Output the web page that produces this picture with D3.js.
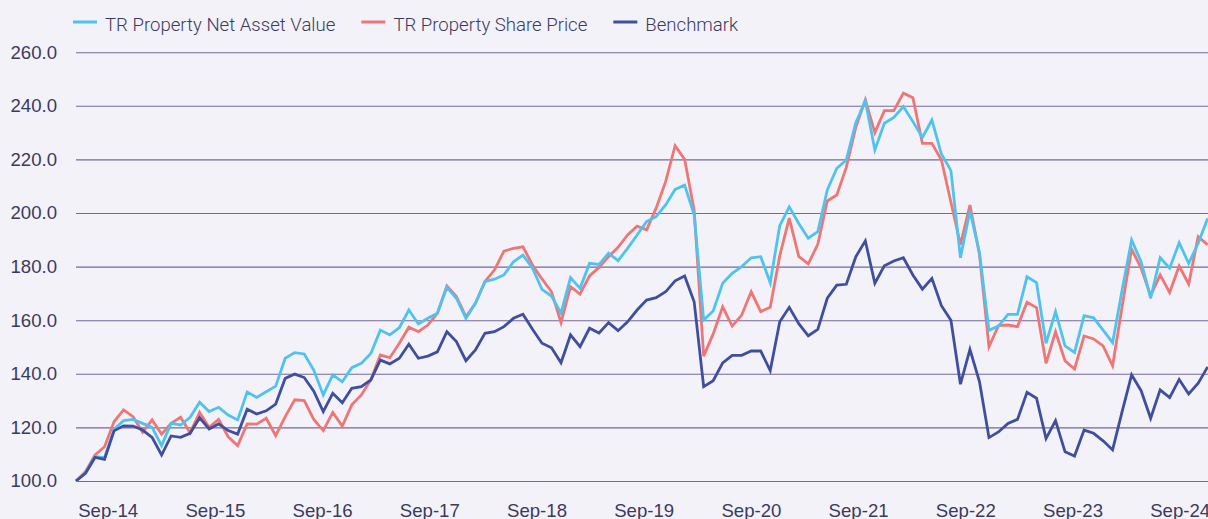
<!DOCTYPE html>
<html>
<head>
<meta charset="utf-8">
<script src="https://cdn.jsdelivr.net/npm/d3@7"></script>
<style>
  html, body { margin: 0; padding: 0; background: #f3f2f9; }
  svg { display: block; font-family: Roboto, "Noto Sans", sans-serif; font-weight: 300; }
</style>
</head>
<body>
<div class="container"></div>
<script>
const w = 1208, h = 519;
const margin = { top: 52.2, bottom: 38, left: 76, right: 0 };

const seriesNames = ["TR Property Net Asset Value", "TR Property Share Price", "Benchmark"];
const seriesColors = ["#4fc3ee", "#ef7676", "#3f4f9e"];
const xLabels = ["Sep-14", "Sep-15", "Sep-16", "Sep-17", "Sep-18", "Sep-19",
  "Sep-20", "Sep-21", "Sep-22", "Sep-23", "Sep-24"];
const yTicks = [100, 120, 140, 160, 180, 200, 220, 240, 260];

// monthly index values, rebased to 100
const nav = [
  100, 103.1, 109.1, 108.7, 119.3, 122.5, 123.0, 121.5, 120.0, 113.2,
  121.5, 120.9, 123.8, 129.4, 125.9, 127.5, 124.6, 122.8, 133.2, 131.2,
  133.3, 135.4, 145.8, 147.9, 147.4, 141.4, 132.1, 139.6, 137.0, 142.3,
  143.9, 147.6, 156.3, 154.5, 157.2, 163.8, 158.6, 160.7, 162.6, 172.3,
  168.2, 160.7, 166.3, 174.4, 175.3, 176.9, 181.8, 184.3, 179.4, 171.5,
  169.0, 162.6, 175.9, 171.9, 181.2, 180.8, 185.0, 182.2, 186.8, 191.8,
  196.8, 198.6, 203.0, 208.8, 210.4, 199.3, 160.1, 163.4, 173.8, 177.5,
  180.0, 183.3, 183.7, 174.0, 195.3, 202.3, 196.1, 190.6, 193.0, 208.6,
  216.7, 219.8, 233.7, 241.9, 223.5, 233.5, 235.7, 239.7, 234.1, 228.2,
  234.7, 222.0, 215.8, 183.3, 200.8, 185.3, 156.2, 157.8, 162.2, 162.2,
  176.2, 174.0, 151.4, 163.2, 150.4, 148.0, 161.7, 160.9, 156.3, 151.6,
  171.3, 189.9, 181.8, 168.2, 183.3, 179.4, 188.9, 181.2, 188.7, 198.0
];
const sharePrice = [
  100, 103.5, 109.7, 112.8, 122.1, 126.5, 124.0, 118.2, 122.8, 117.5,
  121.5, 123.8, 118.0, 125.6, 120.0, 123.0, 116.5, 113.2, 121.3, 121.2,
  123.4, 116.9, 124.0, 130.3, 130.0, 123.0, 118.8, 125.6, 120.5, 128.4,
  132.1, 137.7, 147.0, 146.0, 151.4, 157.4, 155.7, 158.2, 162.6, 172.8,
  168.8, 161.3, 166.3, 174.4, 178.7, 185.8, 186.8, 187.4, 180.6, 175.4,
  170.6, 159.1, 172.5, 169.7, 176.5, 179.7, 183.7, 187.2, 191.8, 195.1,
  193.7, 201.8, 211.7, 225.1, 220.0, 201.1, 146.6, 154.9, 165.0, 157.8,
  161.9, 170.6, 163.2, 164.8, 184.0, 198.1, 183.8, 181.0, 188.3, 204.5,
  206.7, 217.0, 232.0, 242.2, 230.0, 238.2, 238.2, 244.7, 243.0, 226.0,
  226.0, 219.8, 204.0, 188.2, 203.0, 184.5, 150.1, 158.0, 158.2, 157.6,
  166.7, 164.7, 143.9, 155.7, 144.8, 141.8, 154.1, 153.0, 150.4, 143.0,
  165.0, 186.5, 179.4, 169.1, 176.9, 170.3, 180.2, 173.5, 191.2, 188.1
];
const benchmark = [
  100, 102.9, 108.8, 108.1, 118.7, 120.6, 120.5, 119.0, 116.3, 109.7,
  116.8, 116.3, 117.8, 123.6, 119.4, 121.3, 118.8, 117.5, 126.8, 125.0,
  126.2, 128.7, 138.3, 139.9, 138.6, 133.5, 125.9, 132.7, 129.2, 134.6,
  135.2, 137.7, 145.1, 143.7, 145.8, 151.0, 145.8, 146.6, 148.2, 155.7,
  152.0, 144.9, 148.9, 155.1, 155.7, 157.6, 160.7, 162.2, 156.6, 151.4,
  149.7, 144.1, 154.5, 150.1, 157.0, 155.2, 159.1, 156.1, 159.4, 163.8,
  167.5, 168.4, 170.6, 174.7, 176.5, 166.9, 135.2, 137.4, 144.1, 146.9,
  146.9, 148.5, 148.5, 141.2, 159.4, 164.8, 158.7, 154.2, 156.6, 168.2,
  173.1, 173.4, 183.7, 189.6, 173.8, 180.3, 182.1, 183.3, 176.9, 171.6,
  175.6, 165.4, 160.0, 136.1, 149.1, 137.1, 116.2, 118.3, 121.5, 123.0,
  133.1, 130.9, 115.8, 122.5, 110.9, 109.3, 119.0, 117.8, 115.0, 111.6,
  125.9, 139.6, 133.7, 123.4, 134.0, 131.1, 137.9, 132.5, 136.5, 142.6
];
const allSeries = [nav, sharePrice, benchmark];

const svg = d3.select(".container")
  .append("svg")
  .attr("width", w)
  .attr("height", h)
  .attr("viewBox", [0, 0, w, h]);

svg.append("rect").attr("width", w).attr("height", h).attr("fill", "#f3f2f9");

const xScale = d3.scaleLinear()
  .domain([0, nav.length - 1])
  .range([margin.left, 1207.7]);

const yScale = d3.scaleLinear()
  .domain([100, 260])
  .range([h - margin.bottom, margin.top]);

// label positions spread across the axis
const xLabelScale = d3.scalePoint()
  .domain(xLabels)
  .range([107.7, 1179.7]);

// gridlines + y labels
const yAxis = svg.append("g")
  .attr("transform", `translate(${margin.left},0)`)
  .call(d3.axisLeft(yScale)
    .tickValues(yTicks)
    .tickFormat(d3.format(".1f"))
    .tickSize(-(w - margin.left))
    .tickPadding(19));
yAxis.select(".domain").remove();
yAxis.selectAll("line").attr("stroke", "#76699a").attr("stroke-width", 1.1);
yAxis.selectAll("text")
  .attr("fill", "#3b3a5e")
  .style("font-size", "18.6px");

const xAxis = svg.append("g")
  .attr("transform", `translate(0,${h - margin.bottom})`)
  .call(d3.axisBottom(xLabelScale).tickSize(0).tickPadding(22.5));
xAxis.select(".domain").remove();
xAxis.selectAll("text")
  .attr("fill", "#3b3a5e")
  .style("font-size", "18.6px");

const line = d3.line()
  .x((d, i) => xScale(i))
  .y(d => yScale(d));

// share price under NAV, benchmark on top
[1, 0, 2].forEach(k => {
  svg.append("path")
    .datum(allSeries[k])
    .attr("fill", "none")
    .attr("stroke", seriesColors[k])
    .attr("stroke-width", 2.8)
    .attr("stroke-linejoin", "miter")
    .attr("d", line);
});

// legend
const legend = svg.append("g").attr("transform", "translate(73,22)");
let lx = 0;
seriesNames.forEach((name, k) => {
  const g = legend.append("g").attr("transform", `translate(${lx},0)`);
  g.append("line")
    .attr("x1", 0).attr("x2", 24)
    .attr("stroke", seriesColors[k])
    .attr("stroke-width", 3);
  const t = g.append("text")
    .attr("x", 32)
    .attr("y", 8.5)
    .attr("fill", "#3b3a5e")
    .style("font-size", "18.6px")
    .text(name);
  lx += 32 + t.node().getComputedTextLength() + 26;
});
</script>
</body>
</html>
